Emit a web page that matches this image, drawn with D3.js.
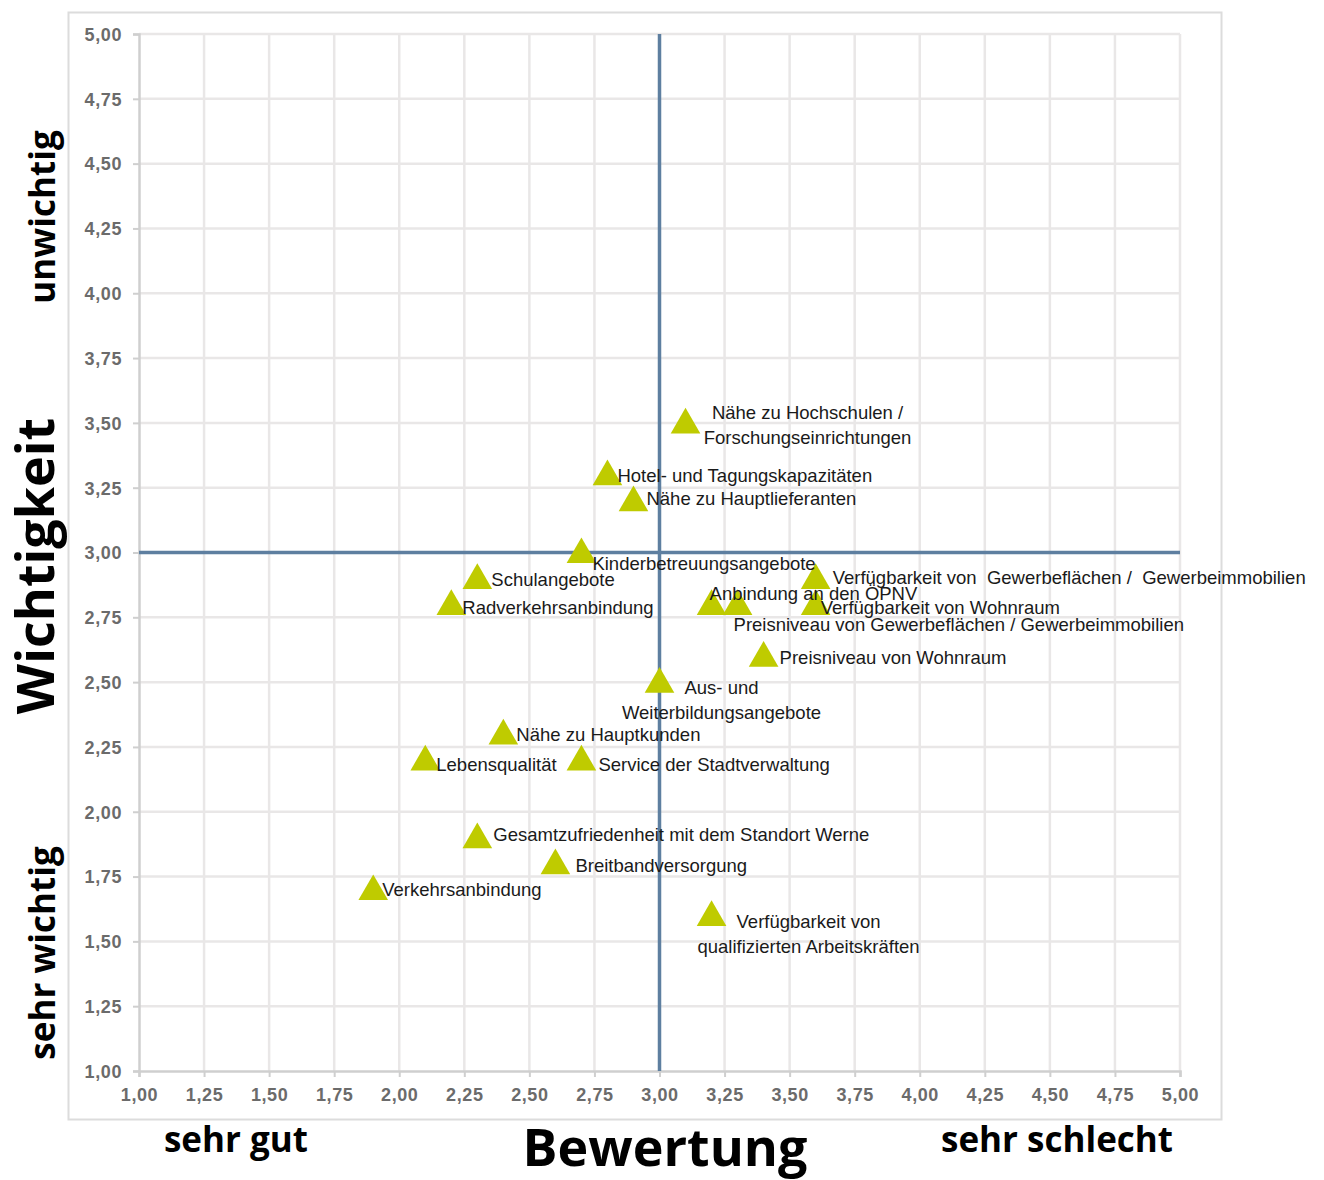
<!DOCTYPE html>
<html>
<head>
<meta charset="utf-8">
<script src="https://cdn.jsdelivr.net/npm/d3@7"></script>
<style>
  html, body { margin: 0; padding: 0; background: #fff; }
  svg { display: block; }
</style>
</head>
<body>
<svg id="chart" width="1324" height="1180"></svg>
<script>
// Standortfaktoren: Bewertung (x) gegen Wichtigkeit (y)
const factors = [
  ["Nähe zu Hochschulen /", "Forschungseinrichtungen"],
  ["Hotel- und Tagungskapazitäten"],
  ["Nähe zu Hauptlieferanten"],
  ["Kinderbetreuungsangebote"],
  ["Schulangebote"],
  ["Radverkehrsanbindung"],
  ["Verfügbarkeit von  Gewerbeflächen /  Gewerbeimmobilien"],
  ["Anbindung an den ÖPNV"],
  ["Preisniveau von Gewerbeflächen / Gewerbeimmobilien"],
  ["Verfügbarkeit von Wohnraum"],
  ["Preisniveau von Wohnraum"],
  ["Aus- und", "Weiterbildungsangebote"],
  ["Nähe zu Hauptkunden"],
  ["Lebensqualität"],
  ["Service der Stadtverwaltung"],
  ["Gesamtzufriedenheit mit dem Standort Werne"],
  ["Breitbandversorgung"],
  ["Verkehrsanbindung"],
  ["Verfügbarkeit von", "qualifizierten Arbeitskräften"]
];
const bewertung  = [3.1, 2.8, 2.9, 2.7, 2.3, 2.2, 3.6, 3.2, 3.3, 3.6, 3.4, 3.0, 2.4, 2.1, 2.7, 2.3, 2.6, 1.9, 3.2];
const wichtigkeit = [3.5, 3.3, 3.2, 3.0, 2.9, 2.8, 2.9, 2.8, 2.8, 2.8, 2.6, 2.5, 2.3, 2.2, 2.2, 1.9, 1.8, 1.7, 1.6];

const tickValues = [1, 1.25, 1.5, 1.75, 2, 2.25, 2.5, 2.75, 3, 3.25, 3.5, 3.75, 4, 4.25, 4.5, 4.75, 5];
const refX = 3.0, refY = 3.0;

// Label placement relative to each marker (pixels): dx, dy of first baseline, anchor
const labelLayout = [
  {dx: 122, dy: -4, anchor: "middle"},
  {dx: 10, dy: 7, anchor: "start"},
  {dx: 13, dy: 4, anchor: "start"},
  {dx: 11, dy: 17, anchor: "start"},
  {dx: 14, dy: 8, anchor: "start"},
  {dx: 11, dy: 10, anchor: "start"},
  {dx: 17, dy: 6, anchor: "start"},
  {dx: -2, dy: -4, anchor: "start"},
  {dx: -4, dy: 27, anchor: "start"},
  {dx: 5, dy: 10, anchor: "start"},
  {dx: 16, dy: 8, anchor: "start"},
  {dx: 62, dy: 12, anchor: "middle"},
  {dx: 13, dy: 7, anchor: "start"},
  {dx: 11, dy: 11, anchor: "start"},
  {dx: 17, dy: 11, anchor: "start"},
  {dx: 16, dy: 3, anchor: "start"},
  {dx: 20, dy: 8, anchor: "start"},
  {dx: 9, dy: 6, anchor: "start"},
  {dx: 97, dy: 13, anchor: "middle"}
];

const svg = d3.select("#chart");
const plot = {left: 139, right: 1180, top: 34, bottom: 1071};

const x = d3.scaleLinear().domain([1, 5]).range([plot.left, plot.right]);
const y = d3.scaleLinear().domain([1, 5]).range([plot.bottom, plot.top]);
const fmt = d => d3.format(".2f")(d).replace(".", ",");

// outer frame
svg.append("rect")
  .attr("x", 68.5).attr("y", 12.5).attr("width", 1153).attr("height", 1107)
  .attr("fill", "#fff").attr("stroke", "#dcdcdc").attr("stroke-width", 2);

// grid
const grid = svg.append("g");
grid.selectAll("line.v").data(tickValues.slice(1)).join("line")
  .attr("x1", d => x(d)).attr("x2", d => x(d))
  .attr("y1", plot.top).attr("y2", plot.bottom)
  .attr("stroke", "#e9e7e7").attr("stroke-width", 2.5);
grid.selectAll("line.h").data(tickValues.slice(1)).join("line")
  .attr("x1", plot.left).attr("x2", plot.right)
  .attr("y1", d => y(d)).attr("y2", d => y(d))
  .attr("stroke", "#e9e7e7").attr("stroke-width", 2.5);

// axes
const xAxis = svg.append("g").attr("transform", `translate(0,${plot.bottom})`)
  .call(d3.axisBottom(x).tickValues(tickValues).tickFormat(fmt).tickSize(6).tickPadding(11));
const yAxis = svg.append("g").attr("transform", `translate(${plot.left},0)`)
  .call(d3.axisLeft(y).tickValues(tickValues).tickFormat(fmt).tickSize(6).tickPadding(11));
[xAxis, yAxis].forEach(a => {
  a.select(".domain").attr("stroke", "#cfcfcf").attr("stroke-width", 2.5);
  a.selectAll(".tick line").attr("stroke", "#cfcfcf").attr("stroke-width", 2);
  a.selectAll(".tick text")
    .attr("fill", "#6b6b6b")
    .style("font-family", "'Liberation Sans', Arial, sans-serif")
    .style("font-size", "18px")
    .style("letter-spacing", "0.6px")
    .style("font-weight", "bold");
});
yAxis.selectAll(".tick text").attr("dy", "0.35em");

// reference lines at 3,00
svg.append("line")
  .attr("x1", x(refX)).attr("x2", x(refX)).attr("y1", plot.top).attr("y2", plot.bottom)
  .attr("stroke", "#5e7fa0").attr("stroke-width", 3.5);
svg.append("line")
  .attr("x1", plot.left).attr("x2", plot.right).attr("y1", y(refY)).attr("y2", y(refY))
  .attr("stroke", "#5e7fa0").attr("stroke-width", 3.5);

// markers
const pts = factors.map((f, i) => ({lines: f, bx: bewertung[i], wy: wichtigkeit[i], lay: labelLayout[i]}));
const tri = d3.symbol().type(d3.symbolTriangle).size(380);
svg.append("g").selectAll("path").data(pts).join("path")
  .attr("d", tri)
  .attr("transform", d => `translate(${x(d.bx)},${y(d.wy) + 2})`)
  .attr("fill", "#bfcb00");

// labels
const lbl = svg.append("g")
  .style("font-family", "'Liberation Sans', Arial, sans-serif")
  .style("font-size", "18.5px")
  .attr("fill", "#1a1a1a");
pts.forEach(d => {
  const t = lbl.append("text")
    .attr("x", x(d.bx) + d.lay.dx)
    .attr("y", y(d.wy) + d.lay.dy)
    .attr("text-anchor", d.lay.anchor)
    .style("white-space", "pre");
  d.lines.forEach((s, k) => {
    t.append("tspan").attr("x", x(d.bx) + d.lay.dx).attr("dy", k === 0 ? 0 : 25).text(s);
  });
});

// axis titles
const titleFont = "'Open Sans', 'Noto Sans', sans-serif";
svg.append("text").attr("x", 665).attr("y", 1166).attr("text-anchor", "middle")
  .style("font-family", titleFont).style("font-weight", "bold").style("font-size", "52px")
  .attr("fill", "#000").text("Bewertung");
svg.append("text").attr("x", 236).attr("y", 1152).attr("text-anchor", "middle")
  .style("font-family", titleFont).style("font-weight", "bold").style("font-size", "35px")
  .attr("fill", "#000").text("sehr gut");
svg.append("text").attr("x", 1057).attr("y", 1152).attr("text-anchor", "middle")
  .style("font-family", titleFont).style("font-weight", "bold").style("font-size", "35px")
  .attr("fill", "#000").text("sehr schlecht");

function vtitle(text, cx, cy, size) {
  svg.append("text")
    .attr("transform", `translate(${cx},${cy}) rotate(-90)`)
    .attr("text-anchor", "middle")
    .style("font-family", titleFont).style("font-weight", "bold").style("font-size", size + "px")
    .attr("fill", "#000").text(text);
}
vtitle("Wichtigkeit", 54, 566, 52);
vtitle("unwichtig", 55, 217, 35);
vtitle("sehr wichtig", 55, 953, 35);
</script>
</body>
</html>
